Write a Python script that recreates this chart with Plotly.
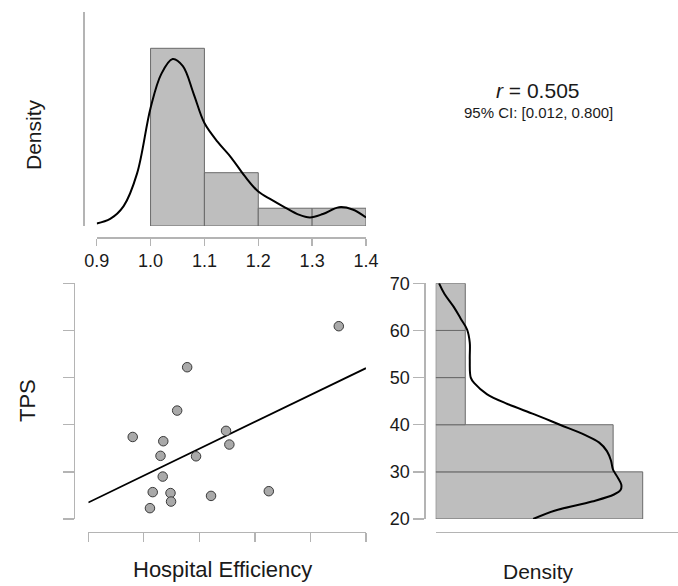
import plotly.graph_objects as go

W, H = 678, 586

# ---------------- data ----------------
# Hospital Efficiency histogram (bins 1.0-1.4, density)
he_bin_centers = [1.05, 1.15, 1.25, 1.35]
he_bin_width = 0.1
he_density = [6.25, 1.875, 0.625, 0.625]

# Hospital Efficiency density curve (x, density)
he_kde_x = [0.900, 0.925, 0.950, 0.975, 1.000, 1.020, 1.041, 1.060, 1.080, 1.100,
            1.125, 1.150, 1.175, 1.200, 1.225, 1.250, 1.275, 1.296, 1.320, 1.350,
            1.375, 1.400]
he_kde_y = [0.09, 0.25, 0.70, 1.85, 4.15, 5.35, 5.87, 5.62, 4.65, 3.62,
            2.95, 2.40, 1.75, 1.21, 0.92, 0.65, 0.40, 0.30, 0.42, 0.66,
            0.58, 0.30]

# Scatter: Hospital Efficiency vs TPS
hosp_eff = [1.351, 1.078, 1.060, 0.980, 1.035, 1.148, 1.154, 1.030,
            1.094, 1.034, 1.016, 1.048, 1.049, 1.011, 1.121, 1.225]
tps = [60.9, 52.2, 43.0, 37.4, 36.5, 38.7, 35.8, 33.4,
       33.3, 29.0, 25.7, 25.5, 23.7, 22.3, 24.9, 25.9]

# Regression line endpoints
reg_x = [0.9, 1.4]
reg_y = [23.5, 52.0]

# TPS histogram (bins 20-70, density)
tps_bin_centers = [25, 35, 45, 55, 65]
tps_bin_width = 10
tps_density = [0.04375, 0.0375, 0.00625, 0.00625, 0.00625]

# TPS density curve (TPS value, density)
tps_kde_y = [70.0, 67.8, 65.0, 62.5, 60.2, 57.4, 53.9, 50.0, 48.7, 46.5,
             44.4, 42.2, 40.0, 37.9, 36.2, 34.4, 32.4, 30.5, 28.7, 27.3,
             26.2, 25.2, 23.7, 21.8, 20.0]
tps_kde_x = [0.00071, 0.00183, 0.00381, 0.00529, 0.00663, 0.00720, 0.00720, 0.00741, 0.00826, 0.01080,
             0.01517, 0.02088, 0.02625, 0.03140, 0.03457, 0.03619, 0.03704, 0.03747, 0.03853, 0.03923,
             0.03909, 0.03768, 0.03302, 0.02528, 0.02060]

x_ticks = [0.9, 1.0, 1.1, 1.2, 1.3, 1.4]
x_tick_labels = ["0.9", "1.0", "1.1", "1.2", "1.3", "1.4"]
y_ticks = [20, 30, 40, 50, 60, 70]
y_tick_labels = ["20", "30", "40", "50", "60", "70"]

r_text = "<i>r</i> = 0.505"
ci_text = "95% CI: [0.012, 0.800]"

# ---------------- styling helpers ----------------
def px_x(p):
    return p / W

def px_y(p):
    return 1 - p / H

AXIS_COL = "#b4b4b4"
BAR_FILL = "#bebebe"
BAR_LINE = "#6a6a6a"
FONT = "Liberation Sans, Arial, sans-serif"
TXT = "#1a1a1a"

fig = go.Figure()

# top histogram
fig.add_trace(go.Bar(x=he_bin_centers, y=he_density, width=he_bin_width,
                     marker=dict(color=BAR_FILL, line=dict(color=BAR_LINE, width=1)),
                     xaxis="x", yaxis="y", hoverinfo="skip"))
fig.add_trace(go.Scatter(x=he_kde_x, y=he_kde_y, mode="lines",
                         line=dict(color="black", width=2, shape="spline", smoothing=1),
                         xaxis="x", yaxis="y", hoverinfo="skip"))

# scatter
fig.add_trace(go.Scatter(x=reg_x, y=reg_y, mode="lines",
                         line=dict(color="black", width=1.8),
                         xaxis="x2", yaxis="y2", hoverinfo="skip"))
fig.add_trace(go.Scatter(x=hosp_eff, y=tps, mode="markers",
                         marker=dict(size=9.5, color="#a9a9a9",
                                     line=dict(color="#3a3a3a", width=1)),
                         xaxis="x2", yaxis="y2", hoverinfo="skip"))

# right histogram
fig.add_trace(go.Bar(y=tps_bin_centers, x=tps_density, width=tps_bin_width,
                     orientation="h",
                     marker=dict(color=BAR_FILL, line=dict(color=BAR_LINE, width=1)),
                     xaxis="x3", yaxis="y3", hoverinfo="skip"))
fig.add_trace(go.Scatter(x=tps_kde_x, y=tps_kde_y, mode="lines",
                         line=dict(color="black", width=2, shape="spline", smoothing=1),
                         xaxis="x3", yaxis="y3", hoverinfo="skip"))

common = dict(showgrid=False, zeroline=False, showline=True, linecolor=AXIS_COL,
              linewidth=1.3, tickcolor=AXIS_COL, tickwidth=1.3, fixedrange=True,
              automargin=False)

top_ymax = 6.25 * (226 - 12.3) / (226 - 48.3)
right_xmax = 0.04375 * (678 - 435.7) / (642.7 - 435.7)

tick_font = dict(size=18, family=FONT, color=TXT)

fig.update_layout(
    template="none",
    width=W, height=H,
    margin=dict(l=0, r=0, t=0, b=0, pad=0, autoexpand=False),
    paper_bgcolor="white", plot_bgcolor="white",
    showlegend=False,
    hovermode=False,
    font=dict(family=FONT, color=TXT),
    xaxis=dict(domain=[px_x(96.7), px_x(366)], range=[0.9, 1.4],
               anchor="free", position=px_y(237.3),
               ticks="outside", ticklen=7, tickvals=x_ticks, ticktext=x_tick_labels,
               tickfont=tick_font, **common),
    yaxis=dict(domain=[px_y(226), px_y(12.3)], range=[0, top_ymax],
               anchor="free", position=px_x(83.3),
               ticks="", showticklabels=False, **common),
    xaxis2=dict(domain=[px_x(88.3), px_x(366)], range=[0.9, 1.4],
                anchor="free", position=px_y(531.5),
                ticks="outside", ticklen=9, tickvals=x_ticks, showticklabels=False,
                **common),
    yaxis2=dict(domain=[px_y(519), px_y(283.3)], range=[20, 70],
                anchor="free", position=px_x(74),
                ticks="outside", ticklen=11, tickvals=y_ticks, showticklabels=False,
                **common),
    xaxis3=dict(domain=[px_x(435.7), 1.0], range=[0, right_xmax],
                anchor="free", position=px_y(531.5),
                ticks="", showticklabels=False, **common),
    yaxis3=dict(domain=[px_y(519), px_y(283.3)], range=[20, 70],
                anchor="free", position=px_x(424.3),
                ticks="outside", ticklen=11, tickvals=y_ticks, ticktext=y_tick_labels,
                tickfont=tick_font, **common),
)

title_font = dict(size=21, family=FONT, color=TXT)
ann = [
    dict(text="Density", x=px_x(33), y=px_y(135), textangle=-90, font=title_font),
    dict(text="TPS", x=px_x(27), y=px_y(401), textangle=-90, font=dict(size=22, family=FONT, color=TXT)),
    dict(text="Hospital Efficiency", x=px_x(222), y=px_y(569), font=dict(size=22, family=FONT, color=TXT)),
    dict(text="Density", x=px_x(538), y=px_y(571), font=title_font),
    dict(text=r_text, x=px_x(537), y=px_y(90), font=dict(size=21, family=FONT, color=TXT)),
    dict(text=ci_text, x=px_x(538), y=px_y(113), font=dict(size=15, family=FONT, color=TXT)),
]
for a in ann:
    fig.add_annotation(xref="paper", yref="paper", showarrow=False,
                       xanchor="center", yanchor="middle", **a)

fig.write_html("out.html",
               config={"displayModeBar": False, "staticPlot": True},
               post_script="document.body.style.margin='0px';document.body.style.overflow='hidden';")
